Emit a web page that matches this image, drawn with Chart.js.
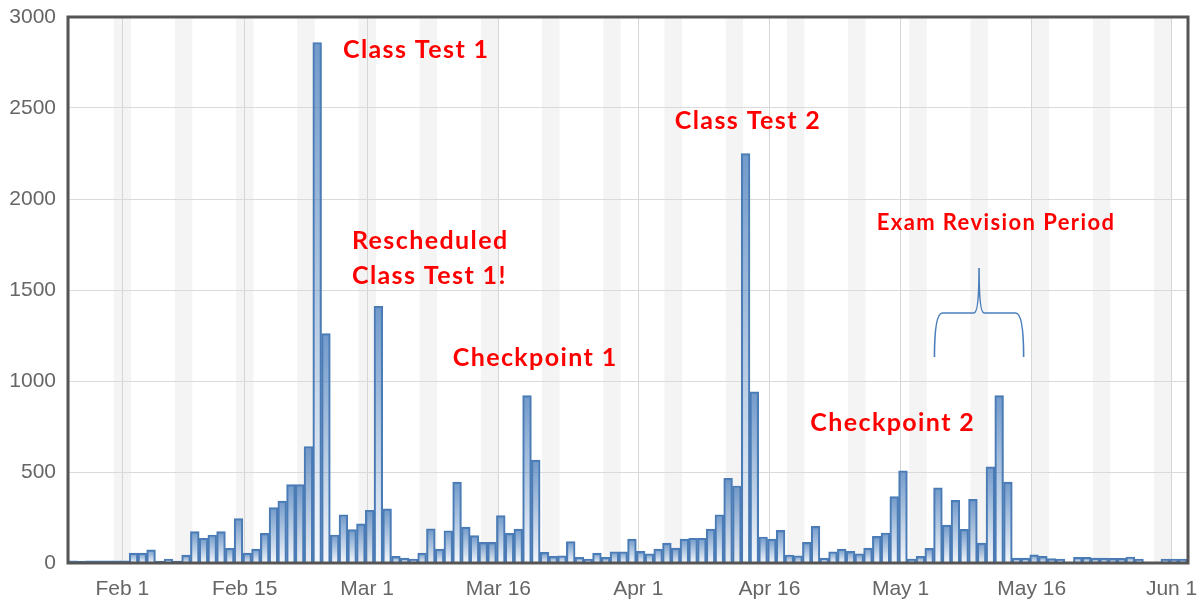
<!DOCTYPE html>
<html>
<head>
<meta charset="utf-8">
<title>Daily activity</title>
<script src="https://cdn.jsdelivr.net/npm/chart.js@4/dist/chart.umd.min.js"></script>
<style>
  html, body { margin: 0; padding: 0; background: #fff; }
  #wrap { width: 1199px; height: 600px; position: relative; }
</style>
</head>
<body>
<div id="wrap"><canvas id="chart"></canvas></div>
<script>
/* ---------------------------------------------------------------------
   data (one bar per day, first day = Mon 26 Jan 2015)
   --------------------------------------------------------------------- */
const startDate = '2015-01-26';
const dailyViews = [
  12, 10, 12, 12, 12, 12, 12, 54, 54, 72, 10, 22, 10, 43,
  172, 136, 154, 172, 81, 244, 54, 76, 163, 304, 340, 431, 431, 640,
  2860, 1260, 154, 265, 183, 215, 290, 1410, 297, 36, 27, 22, 54, 188,
  76, 177, 444, 197, 150, 113, 113, 260, 163, 186, 920, 565, 58, 36,
  40, 118, 31, 22, 54, 31, 62, 62, 131, 64, 51, 76, 109, 82,
  131, 136, 136, 186, 265, 465, 423, 2250, 940, 143, 131, 179, 44, 40,
  113, 201, 27, 62, 76, 64, 51, 82, 146, 165, 365, 507, 22, 36,
  80, 413, 208, 344, 185, 350, 109, 528, 920, 444, 27, 27, 45, 36,
  24, 22, 0, 31, 31, 27, 27, 25, 25, 33, 22, 0, 0, 22, 22, 22
];
const tickDays = [6, 20, 34, 49, 65, 80, 95, 110, 126];
const tickLabels = ['Feb 1', 'Feb 15', 'Mar 1', 'Mar 16', 'Apr 1', 'Apr 16', 'May 1', 'May 16', 'Jun 1'];
const yTicks = [0, 500, 1000, 1500, 2000, 2500, 3000];

// notes written on the chart: [text, day, value, font size]
const notes = [
  ['Class Test 1', 30.95, 2819, 25],
  ['Rescheduled', 31.98, 1769, 25],
  ['Class Test 1!', 31.98, 1577, 25],
  ['Checkpoint 1', 43.5, 1126, 25],
  ['Class Test 2', 68.9, 2429, 25],
  ['Checkpoint 2', 84.4, 769, 25],
  ['Exam Revision Period', 92.0, 1868, 22]
];
// brace under "Exam Revision Period": days and values
const braceDays = [98.6, 103.7, 108.8];
const braceValues = [1132, 1374, 1621];

const dayShift = 0.28; // day boundaries sit a little left of the bar centres
const blue = '79,129,189';

/* ---------------------------------------------------------------------
   plugins
   --------------------------------------------------------------------- */
const weekendBands = {
  id: 'weekendBands',
  beforeDraw(chart) {
    const { ctx, chartArea: a, scales: { x } } = chart;
    const t0 = new Date(startDate + 'T00:00:00Z');
    ctx.save();
    ctx.beginPath();
    ctx.rect(a.left, a.top, a.right - a.left, a.bottom - a.top);
    ctx.clip();
    ctx.fillStyle = '#f4f4f4';
    for (let i = -2; i < dailyViews.length + 2; i++) {
      const d = new Date(t0.getTime() + i * 86400000).getUTCDay();
      if (d !== 6) continue;
      const x1 = x.getPixelForValue(i - dayShift);
      const x2 = x.getPixelForValue(i + 2 - dayShift);
      ctx.fillRect(x1, a.top, x2 - x1, a.bottom - a.top);
    }
    ctx.restore();
  }
};

const frameAndNotes = {
  id: 'frameAndNotes',
  afterDraw(chart) {
    const { ctx, chartArea: a, scales: { x, y } } = chart;
    ctx.save();
    ctx.strokeStyle = '#555';
    ctx.lineWidth = 3;
    ctx.strokeRect(a.left, a.top, a.right - a.left, a.bottom - a.top);

    ctx.fillStyle = '#ff0000';
    ctx.textBaseline = 'middle';
    ctx.textAlign = 'left';
    ctx.letterSpacing = '1.4px';
    notes.forEach(([t, d, v, size]) => {
      ctx.font = `bold ${size}px Lato`;
      ctx.fillText(t, x.getPixelForValue(d), y.getPixelForValue(v));
    });

    // curly brace
    const [l, m, r] = braceDays.map(d => x.getPixelForValue(d));
    const [yEnd, yMid, yTip] = braceValues.map(v => y.getPixelForValue(v));
    ctx.strokeStyle = '#4a7ebb';
    ctx.lineWidth = 1.6;
    ctx.beginPath();
    ctx.moveTo(l, yEnd);
    ctx.quadraticCurveTo(l, yMid, l + 8, yMid);
    ctx.lineTo(m - 5, yMid);
    ctx.quadraticCurveTo(m, yMid, m, yTip);
    ctx.quadraticCurveTo(m, yMid, m + 5, yMid);
    ctx.lineTo(r - 8, yMid);
    ctx.quadraticCurveTo(r, yMid, r, yEnd);
    ctx.stroke();
    ctx.restore();
  }
};

/* ---------------------------------------------------------------------
   chart
   --------------------------------------------------------------------- */
const barFill = (c) => {
  const chart = c.chart;
  if (!chart.chartArea || !c.parsed) return `rgba(${blue},0.5)`;
  const top = chart.scales.y.getPixelForValue(c.parsed.y);
  const bottom = chart.scales.y.getPixelForValue(0);
  if (bottom - top < 1) return `rgba(${blue},0.5)`;
  const g = chart.ctx.createLinearGradient(0, top, 0, bottom);
  g.addColorStop(0, `rgba(${blue},0.8)`);
  g.addColorStop(1, `rgba(${blue},0.06)`);
  return g;
};

const tickFont = { family: 'Liberation Sans', size: 21 };

new Chart(document.getElementById('chart'), {
  type: 'bar',
  data: {
    datasets: [{
      data: dailyViews.map((v, i) => ({ x: i, y: v })),
      backgroundColor: barFill,
      borderColor: '#4a7bb5',
      borderWidth: 1.5,
      borderSkipped: 'start',
      barPercentage: 1,
      categoryPercentage: 1
    }]
  },
  options: {
    responsive: true,
    maintainAspectRatio: false,
    animation: false,
    layout: { padding: { top: 17, right: 11, left: 0, bottom: 0 } },
    plugins: { legend: { display: false }, tooltip: { enabled: false } },
    scales: {
      x: {
        type: 'linear',
        min: -0.5,
        max: 127.6,
        offset: false,
        afterBuildTicks: s => { s.ticks = tickDays.map(d => ({ value: d - dayShift })); },
        afterFit: s => { s.height = 37; s.paddingLeft = 0; s.paddingRight = 0; },
        ticks: {
          autoSkip: false,
          maxRotation: 0,
          padding: 14,
          color: '#666',
          font: tickFont,
          callback: (v, i) => tickLabels[i]
        },
        grid: { color: '#d6d6d6', lineWidth: 1, drawTicks: false, offset: false },
        border: { display: false }
      },
      y: {
        min: 0,
        max: 3000,
        afterBuildTicks: s => { s.ticks = yTicks.map(v => ({ value: v })); },
        afterFit: s => { s.width = 68; s.paddingTop = 0; s.paddingBottom = 0; },
        ticks: { padding: 12, color: '#666', font: tickFont, callback: v => String(v) },
        grid: { color: '#dadada', lineWidth: 1, drawTicks: false },
        border: { display: false }
      }
    }
  },
  plugins: [weekendBands, frameAndNotes]
});
</script>
</body>
</html>
